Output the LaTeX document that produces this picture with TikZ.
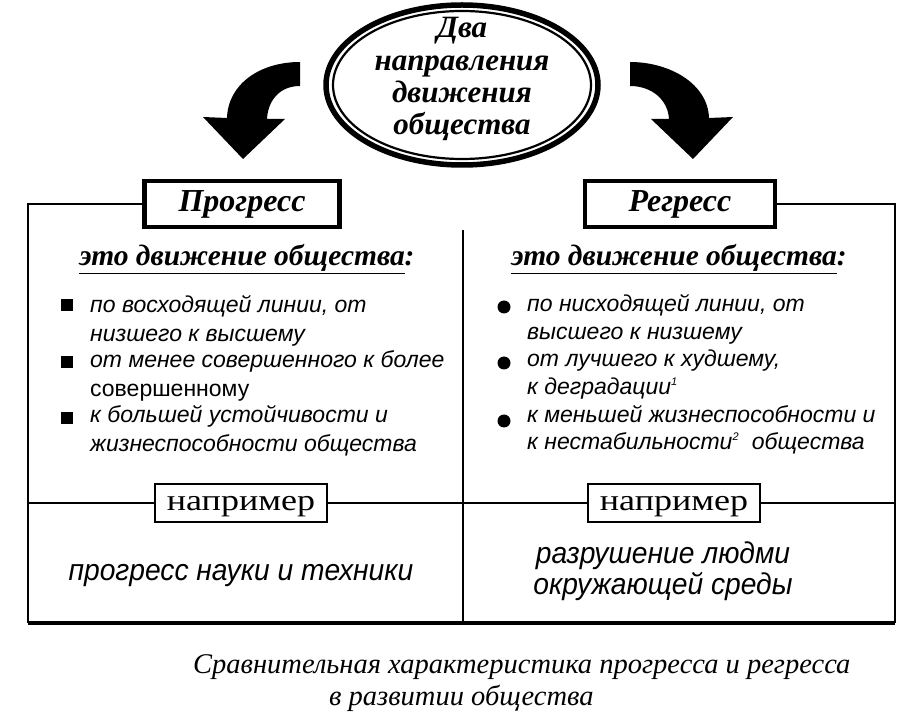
\documentclass[tikz,border=0pt]{standalone}
\usepackage{fontspec}
\setmainfont{Liberation Serif}
\newfontfamily\sansfam{Liberation Sans}
\newfontfamily\narrowsans[FakeStretch=0.94]{Liberation Sans}
\newfontfamily\wideserif[FakeStretch=1.2]{Liberation Serif}
\usetikzlibrary{shapes.geometric}
\tikzset{
  frameline/.style={line width=2.4pt},
  bottomline/.style={line width=3.8pt},
  headbox/.style={draw, line width=4.5pt, minimum height=46pt, inner sep=0pt,
    font=\fontsize{32}{34}\selectfont\bfseries\itshape},
  exbox/.style={draw, line width=1.8pt, minimum width=172pt, minimum height=38pt, inner sep=0pt,
    text height=20pt, text depth=4pt, font=\wideserif\fontsize{30}{32}\selectfont},
  titletext/.style={anchor=base, inner sep=0pt, font=\fontsize{31}{32}\selectfont\bfseries\itshape},
  leadtext/.style={inner sep=0pt, font=\fontsize{29.5}{30}\selectfont\bfseries\itshape},
  itemtext/.style={anchor=base west, inner sep=0pt, font=\sansfam\itshape\fontsize{23}{27}\selectfont},
  itemup/.style={anchor=base west, inner sep=0pt, font=\sansfam\fontsize{23}{27}\selectfont},
  sqbullet/.style={fill, minimum size=12pt, inner sep=0pt},
  dotbullet/.style={circle, fill, minimum size=13pt, inner sep=0pt},
  extext/.style={anchor=base, inner sep=0pt, font=\narrowsans\itshape\fontsize{30}{32}\selectfont},
  captext/.style={anchor=base west, inner sep=0pt, font=\fontsize{28.5}{30}\selectfont\itshape},
  bigarrow/.style={fill=black},
}
\newcommand\tinysup[1]{\textsuperscript{\fontsize{11}{11}\selectfont #1}}
\begin{document}
\begin{tikzpicture}[x=1pt, y=-1pt]
\useasboundingbox[fill=white] (0,0) rectangle (922,719);

% title ellipse
\node[ellipse, draw, line width=5.5pt, minimum width=272pt, minimum height=160pt] (title) at (462,85) {};
\draw[line width=2.2pt] (title.center) ellipse [x radius=129pt, y radius=74pt];
\node[titletext] (t1) at (462,38) {Два};
\node[titletext] (t2) at (462,71) {направления};
\node[titletext] (t3) at (462,103) {движения};
\node[titletext] (t4) at (462,135) {общества};

% curved arrows
\fill[bigarrow] (300,62) .. controls (260,62) and (228,84) .. (227,118) -- (203,117) -- (243,159)
  -- (285,119) -- (267,119) .. controls (268,100) and (280,86) .. (300,86) -- cycle;
\fill[bigarrow] (630,62) .. controls (670,62) and (708,84) .. (709,118) -- (733,117) -- (693,159)
  -- (651,119) -- (669,119) .. controls (668,100) and (652,86) .. (630,86) -- cycle;

% header boxes
\node[headbox, minimum width=195pt] (prog) at (242,204) {Прогресс};
\node[headbox, minimum width=190pt] (reg) at (680,204) {Регресс};

% frame
\coordinate (tl) at (28,204);
\coordinate (bl) at (28,623);
\coordinate (br) at (895,623);
\coordinate (tr) at (895,204);
\coordinate (mt) at (463,230);
\coordinate (mb) at (463,623);
\coordinate (hl) at (28,503);
\coordinate (hr) at (895,503);
\draw[frameline] (prog.west) -- (tl) -- (bl);
\draw[frameline] (reg.east) -- (tr) -- (br);
\draw[bottomline] (bl) -- (br);
\draw[frameline] (mt) -- (mb);

% lead lines
\node[leadtext] (lead1) at (247,259) {\underline{это движение общества}:};
\node[leadtext] (lead2) at (679,259) {\underline{это движение общества}:};

% left items
\node[sqbullet] (b1) at (67,305) {};
\node[itemtext] (p1a) at (90,313) {по восходящей линии, от};
\node[itemtext] (p1b) at (90,342) {низшего к высшему};
\node[sqbullet] (b2) at (67,362) {};
\node[itemtext] (p2a) at (90,368) {от менее совершенного к более};
\node[itemup] (p2b) at (90,397) {совершенному};
\node[sqbullet] (b3) at (67,418) {};
\node[itemtext] (p3a) at (90,423) {к большей устойчивости и};
\node[itemtext] (p3b) at (90,452) {жизнеспособности общества};

% right items
\node[dotbullet] (c1) at (504,307) {};
\node[itemtext] (r1a) at (527,312) {по нисходящей линии, от};
\node[itemtext] (r1b) at (527,340) {высшего к низшему};
\node[dotbullet] (c2) at (504,363) {};
\node[itemtext] (r2a) at (527,367) {от лучшего к худшему,};
\node[itemtext] (r2b) at (527,395) {к деградации\tinysup{1}};
\node[dotbullet] (c3) at (504,421) {};
\node[itemtext] (r3a) at (527,423) {к меньшей жизнеспособности и};
\node[itemtext] (r3b) at (527,450) {к нестабильности\tinysup{2}\ \ общества};

% examples
\node[exbox] (ex1) at (241,503) {например};
\node[exbox] (ex2) at (674,503) {например};
\draw[frameline] (hl) -- (ex1.west);
\draw[frameline] (ex1.east) -- (ex2.west);
\draw[frameline] (ex2.east) -- (hr);
\node[extext] (e1) at (241,580) {прогресс науки и техники};
\node[extext] (e2a) at (663,563) {разрушение людми};
\node[extext] (e2b) at (663,594) {окружающей среды};

% caption
\node[captext] (cap1) at (193,673) {Сравнительная характеристика прогресса и регресса};
\node[captext] (cap2) at (329,705) {в развитии общества};
\end{tikzpicture}
\end{document}
